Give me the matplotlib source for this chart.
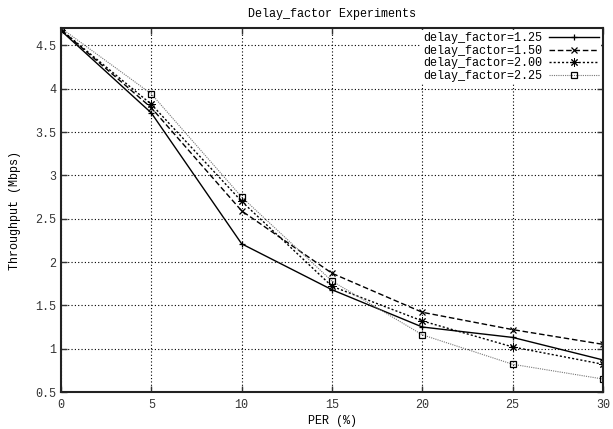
import matplotlib
matplotlib.use("Agg")
import matplotlib.pyplot as plt

plt.rcParams['font.family'] = ['Liberation Mono', 'DejaVu Sans Mono']
plt.rcParams['font.size'] = 8.5

per = [0, 5, 10, 15, 20, 25, 30]
tput_125 = [4.67, 3.72, 2.21, 1.68, 1.25, 1.13, 0.87]
tput_150 = [4.68, 3.78, 2.59, 1.87, 1.42, 1.22, 1.05]
tput_200 = [4.68, 3.82, 2.70, 1.72, 1.32, 1.02, 0.82]
tput_225 = [4.70, 3.94, 2.75, 1.78, 1.16, 0.82, 0.65]
labels = ['delay_factor=1.25', 'delay_factor=1.50',
          'delay_factor=2.00', 'delay_factor=2.25']
xticks = [0, 5, 10, 15, 20, 25, 30]
yticks = [0.5, 1, 1.5, 2, 2.5, 3, 3.5, 4, 4.5]

fig = plt.figure(figsize=(6.13, 4.29), dpi=100)
ax = fig.add_axes([0.0995, 0.0862, 0.8842, 0.8485])

ax.plot(per, tput_125, color='black', lw=1.0, ls='-', marker='+', ms=5, mew=0.9, label=labels[0])
ax.plot(per, tput_150, color='black', lw=1.0, ls=(0, (4, 2)), marker='x', ms=4, mew=0.9, label=labels[1])
ax.plot(per, tput_200, color='black', lw=1.0, ls=(0, (1.5, 1.5)), marker=(8, 2, 0), ms=6, mew=0.7,
        label=labels[2])
ax.plot(per, tput_225, color='#777777', lw=0.8, ls=(0, (1, 1)), marker='s', ms=4.5, mew=0.9,
        mfc='none', mec='black', label=labels[3])

ax.set_xlim(0, 30)
ax.set_ylim(0.5, 4.7)
ax.set_xticks(xticks)
ax.set_xticklabels([str(t) for t in xticks])
ax.set_yticks(yticks)
ax.set_yticklabels(['%g' % t for t in yticks])
ax.tick_params(direction='in', top=True, right=True, length=4, width=1, colors='#333333', labelcolor='#333333')
ax.tick_params(axis='x', pad=5)
ax.grid(True, color='black', ls=(0, (1, 2)), lw=0.8)
for s in ax.spines.values():
    s.set_linewidth(1.5)
    s.set_color('#222222')

ax.set_title('Delay_factor Experiments', fontsize=8.5, pad=8)
ax.set_xlabel('PER (%)', labelpad=3)
ax.set_ylabel('Throughput (Mbps)', labelpad=10)

leg = ax.legend(loc='upper right', frameon=True, markerfirst=False, handlelength=4.2,
                borderaxespad=0.15, labelspacing=0.05, fontsize=8.5, fancybox=False,
                borderpad=0.2, handletextpad=0.6)
leg.get_frame().set_edgecolor('none')
leg.get_frame().set_facecolor('white')
leg.get_frame().set_alpha(1)

fig.savefig('out.png', dpi=100)
